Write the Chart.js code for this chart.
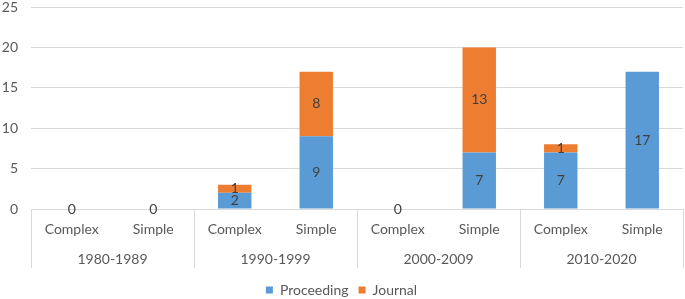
<!DOCTYPE html>
<html>
<head>
<meta charset="utf-8">
<script src="https://cdn.jsdelivr.net/npm/chart.js@4/dist/chart.umd.min.js"></script>
<style>
  html, body { margin: 0; padding: 0; background: #fff; }
  #wrap { width: 685px; height: 299px; }
</style>
</head>
<body>
<div id="wrap"><canvas id="chart"></canvas></div>
<script>
const types = ['Complex', 'Simple', 'Complex', 'Simple', 'Complex', 'Simple', 'Complex', 'Simple'];
const periods = ['1980-1989', '1990-1999', '2000-2009', '2010-2020'];
const proceeding = [0, 0, 2, 9, 0, 7, 7, 17];
const journal = [0, 0, 1, 8, 0, 13, 1, 0];
const yTicks = [0, 5, 10, 15, 20, 25];

const textColor = '#595959';
const lineColor = '#d9d9d9';
const fontFamily = 'Lato, "Open Sans", sans-serif';
const font = { family: fontFamily, size: 14 };

// draws the numbers inside the bars and the group separators
const extras = {
    id: 'extras',
    afterDatasetsDraw(chart) {
        const ctx = chart.ctx;
        ctx.save();
        ctx.font = '14px ' + fontFamily;
        ctx.fillStyle = '#404040';
        ctx.textAlign = 'center';
        ctx.textBaseline = 'middle';
        chart.data.datasets.forEach((ds, di) => {
            const meta = chart.getDatasetMeta(di);
            meta.data.forEach((bar, i) => {
                const v = ds.data[i];
                if (di === 1 && !v) return;
                const y = v ? (bar.y + bar.base) / 2 : bar.base;
                ctx.fillText(String(v), bar.x, y);
            });
        });
        ctx.restore();
    },
    afterDraw(chart) {
        const ctx = chart.ctx;
        const xs = chart.scales.x;
        const x2 = chart.scales.x2;
        const step = xs.getPixelForValue(1) - xs.getPixelForValue(0);
        ctx.save();
        ctx.strokeStyle = lineColor;
        ctx.lineWidth = 1;
        for (let g = 0; g <= periods.length; g++) {
            const px = Math.round(xs.getPixelForValue(g * 2) - step / 2) + 0.5;
            ctx.beginPath();
            ctx.moveTo(px, chart.chartArea.bottom);
            ctx.lineTo(px, x2.top + 30);
            ctx.stroke();
        }
        ctx.restore();
    }
};

new Chart(document.getElementById('chart').getContext('2d'), {
    type: 'bar',
    data: {
        labels: types,
        datasets: [
            { label: 'Proceeding', data: proceeding, backgroundColor: '#5b9bd5', xAxisID: 'x' },
            { label: 'Journal', data: journal, backgroundColor: '#ed7d31', xAxisID: 'x' }
        ]
    },
    options: {
        responsive: true,
        maintainAspectRatio: false,
        animation: false,
        layout: { padding: { top: 0, right: 2, left: 0, bottom: -8 } },
        datasets: { bar: { categoryPercentage: 1, barPercentage: 0.41 } },
        plugins: {
            legend: {
                position: 'bottom',
                labels: {
                    boxWidth: 7, boxHeight: 7, padding: 10,
                    color: textColor,
                    font: font
                }
            },
            tooltip: { enabled: false }
        },
        scales: {
            x: {
                stacked: true,
                grid: { display: false, drawTicks: false },
                border: { display: false },
                ticks: { color: textColor, font: font, padding: 12, maxRotation: 0, autoSkip: false },
                afterFit(scale) { scale.height = 29; }
            },
            x2: {
                type: 'category',
                position: 'bottom',
                labels: periods,
                offset: true,
                grid: { display: false, drawTicks: false },
                border: { display: false },
                ticks: { color: textColor, font: font, padding: 13, maxRotation: 0, autoSkip: false },
                afterFit(scale) { scale.height = 35; }
            },
            y: {
                stacked: true,
                min: 0,
                max: 25,
                afterBuildTicks(scale) { scale.ticks = yTicks.map(v => ({ value: v })); },
                grid: { color: lineColor, drawTicks: false },
                border: { display: false },
                ticks: { color: textColor, font: font, padding: 13 },
                afterFit(scale) {
                    scale.width = 31;
                    scale.paddingTop = 7;
                    scale.paddingBottom = 0;
                }
            }
        }
    },
    plugins: [extras]
});
</script>
</body>
</html>
